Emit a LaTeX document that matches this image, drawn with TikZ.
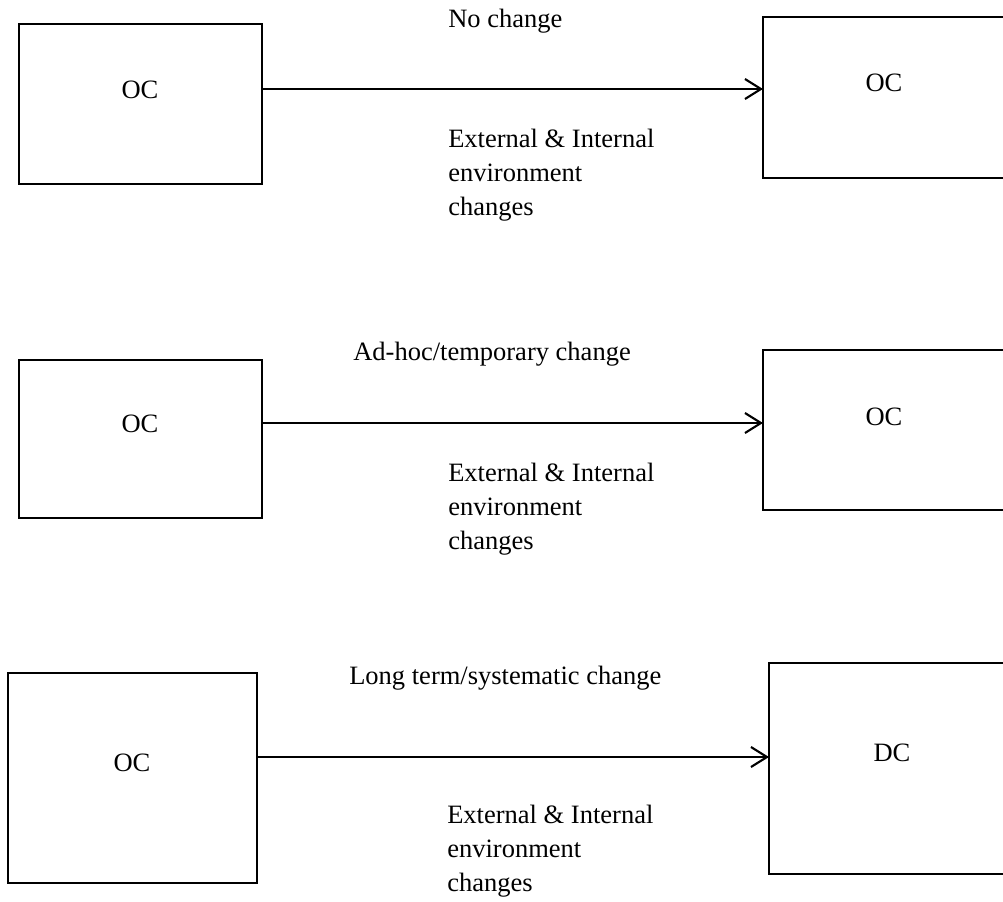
\documentclass[tikz,border=0pt]{standalone}
\usepackage{fontspec}
\setmainfont{Liberation Serif}
\usetikzlibrary{arrows.meta}
\begin{document}
\begin{tikzpicture}[x=0.025cm,y=-0.025cm,
  box/.style={draw,line width=1.5pt,inner sep=0pt,outer sep=0pt},
  lbl/.style={font=\fontsize{18.85}{24.2}\selectfont, inner sep=0pt, anchor=base west},
  boxtxt/.style={font=\fontsize{18.85}{24.2}\selectfont, inner sep=0pt, anchor=center},
  arr/.style={line width=1.5pt,-{Straight Barb[length=0.4cm,width=0.5cm,line width=1.5pt]}}]
\useasboundingbox (0,0) rectangle (1003,901);
\clip (0,0) rectangle (1003,901);
% boxes
\node[box, minimum width=6.075cm, minimum height=4cm] (l1) at (140.5,104) {};
\node[box, minimum width=7cm, minimum height=4.025cm] (r1) at (903,97.5) {};
\node[box, minimum width=6.075cm, minimum height=3.95cm] (l2) at (140.5,439) {};
\node[box, minimum width=7cm, minimum height=4cm] (r2) at (903,430) {};
\node[box, minimum width=6.225cm, minimum height=5.25cm] (l3) at (132.5,778) {};
\node[box, minimum width=7cm, minimum height=5.275cm] (r3) at (909,768.5) {};
% box texts
\node[boxtxt] (t1l) at (140,90) {OC};
\node[boxtxt] (t1r) at (884,83) {OC};
\node[boxtxt] (t2l) at (140,424) {OC};
\node[boxtxt] (t2r) at (884,417) {OC};
\node[boxtxt] (t3l) at (132,763) {OC};
\node[boxtxt] (t3r) at (892,753) {DC};
% arrows
\coordinate (a1) at (0,89);
\coordinate (a2) at (0,423);
\coordinate (a3) at (0,757);
\draw[arr] (l1.east |- a1) -- (r1.west |- a1);
\draw[arr] (l2.east |- a2) -- (r2.west |- a2);
\draw[arr] (l3.east |- a3) -- (r3.west |- a3);
% labels
\node[lbl] (n1) at (448,27) {No change};
\node[lbl] (e1) at (448,147) {\begin{tabular}[t]{@{}l@{}}External \& Internal\\ environment\\ changes\end{tabular}};
\node[lbl] (n2) at (353,360) {Ad-hoc/temporary change};
\node[lbl] (e2) at (448,481) {\begin{tabular}[t]{@{}l@{}}External \& Internal\\ environment\\ changes\end{tabular}};
\node[lbl] (n3) at (349,684) {Long term/systematic change};
\node[lbl] (e3) at (447,823) {\begin{tabular}[t]{@{}l@{}}External \& Internal\\ environment\\ changes\end{tabular}};
\end{tikzpicture}
\end{document}
